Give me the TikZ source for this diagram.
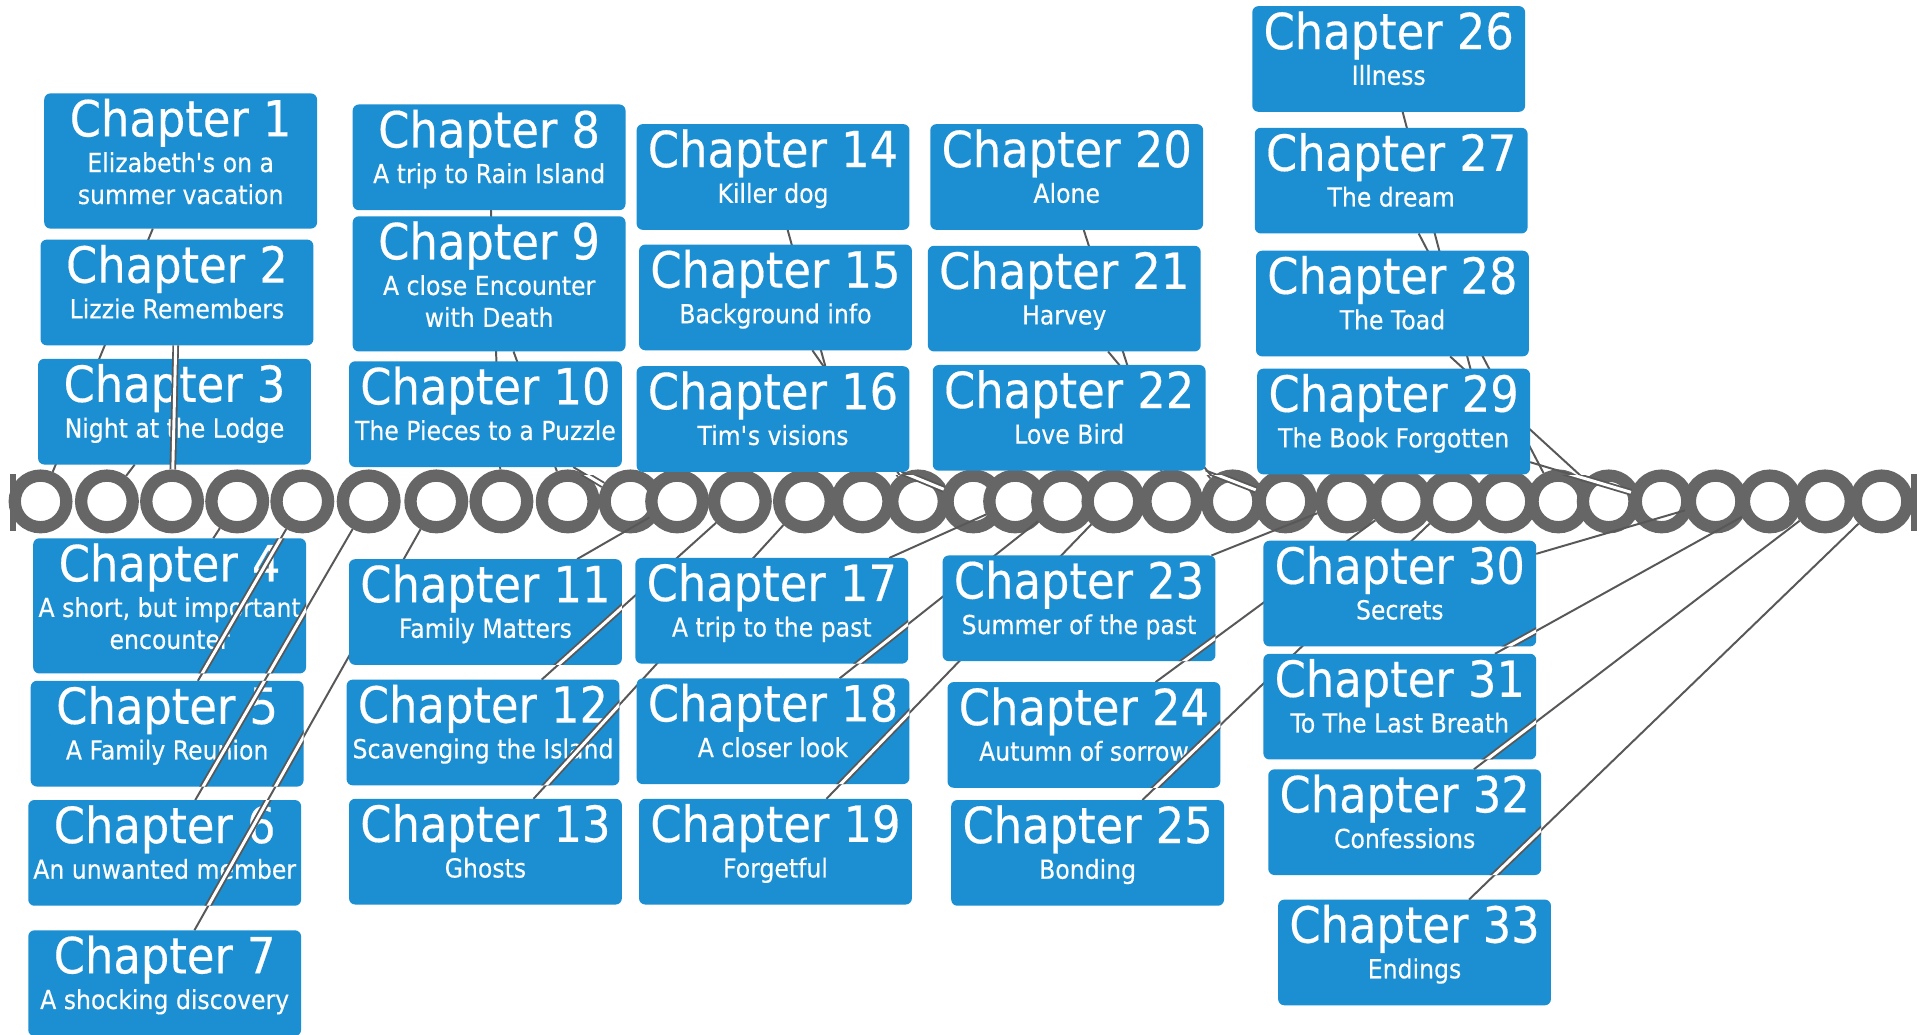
\documentclass[tikz,border=0pt]{standalone}
\usepackage{fontspec}
\setmainfont{DejaVu Sans}
\newfontfamily\chapfont[FakeStretch=0.9,FakeBold=0.35]{DejaVu Sans}
\usetikzlibrary{calc}
\definecolor{boxblue}{RGB}{27,143,210}
\definecolor{ringgrey}{RGB}{102,102,102}
\definecolor{linkgrey}{RGB}{88,88,88}
\pgfdeclarelayer{back}
\pgfdeclarelayer{rings}
\pgfdeclarelayer{links}
\pgfdeclarelayer{fg}
\pgfsetlayers{back,rings,links,main,fg}
\tikzset{
  chapbox/.style={rectangle, rounded corners=5pt, fill=boxblue, minimum width=222pt, inner sep=0pt, outer sep=0pt},
  ttl/.style={inner sep=0pt, text=white, font=\chapfont\fontsize{40.5}{44}\selectfont, anchor=base},
  subttl/.style={inner sep=0pt, text=white, font=\chapfont\fontsize{21.3}{25}\selectfont, anchor=base},
  ring/.style={circle, draw=ringgrey, line width=10pt, fill=white, minimum size=42pt, inner sep=0pt},
  link/.style={draw=linkgrey, line width=1.6pt},
  overlink/.style={draw=linkgrey, line width=1.5pt, double=white, double distance=2.4pt},
}
\newcommand\mkchap[4]{%
  \node[chapbox, minimum height=86pt] (ch#1) at (#2+111,#3+43) {};
  \node[ttl] (ch#1t) at ($(ch#1.north)+(0,35)$) {Chapter #1};
  \node[subttl] (ch#1s) at ($(ch#1.north)+(0,64)$) {#4};}
\newcommand\mkchaptwo[5]{%
  \node[chapbox, minimum height=110pt] (ch#1) at (#2+111,#3+55) {};
  \node[ttl] (ch#1t) at ($(ch#1.north)+(0,35)$) {Chapter #1};
  \node[subttl] (ch#1s) at ($(ch#1.north)+(0,64)$) {#4};
  \node[subttl] (ch#1u) at ($(ch#1.north)+(0,90)$) {#5};}
\newcommand\ovlink[3]{\begin{scope}\clip[rounded corners=5pt] (#1.south west) rectangle (#1.north east);\draw[overlink] (#2) -- (#3);\end{scope}}
\begin{document}
\begin{tikzpicture}[x=1pt,y=-1pt]
\begin{pgfonlayer}{back}
\fill[white] (0,0) rectangle (1568,842);
\end{pgfonlayer}
\useasboundingbox (0,0) rectangle (1568,842);
\begin{pgfonlayer}{rings}
\fill[ringgrey] (8,386) rectangle (13,432);
\fill[ringgrey] (1555,386) rectangle (1560,432);
\foreach \xx [count=\i] in {33,87,140,193,246,300,355,408,462,513,551,602,655,702,747,792,826,865,906,953,1003,1046,1096,1140,1182,1225,1268,1309,1352,1396,1440,1485,1531}
  {\node[ring] (c\i) at (\xx,408) {};}
\end{pgfonlayer}
% column 1
\mkchaptwo{1}{36}{76}{Elizabeth\textquotesingle s on a}{summer vacation}
\mkchap{2}{33}{195}{Lizzie Remembers}
\mkchap{3}{31}{292}{Night at the Lodge}
\mkchaptwo{4}{27}{438}{A short, but important}{encounter}
\mkchap{5}{25}{554}{A Family Reunion}
\mkchap{6}{23}{651}{An unwanted member}
\mkchap{7}{23}{757}{A shocking discovery}
% column 2
\mkchap{8}{287}{85}{A trip to Rain Island}
\mkchaptwo{9}{287}{176}{A close Encounter}{with Death}
\mkchap{10}{284}{294}{The Pieces to a Puzzle}
\mkchap{11}{284}{455}{Family Matters}
\mkchap{12}{282}{553}{Scavenging the Island}
\mkchap{13}{284}{650}{Ghosts}
% column 3
\mkchap{14}{518}{101}{Killer dog}
\mkchap{15}{520}{199}{Background info}
\mkchap{16}{518}{298}{Tim\textquotesingle s visions}
\mkchap{17}{517}{454}{A trip to the past}
\mkchap{18}{518}{552}{A closer look}
\mkchap{19}{520}{650}{Forgetful}
% column 4
\mkchap{20}{757}{101}{Alone}
\mkchap{21}{755}{200}{Harvey}
\mkchap{22}{759}{297}{Love Bird}
\mkchap{23}{767}{452}{Summer of the past}
\mkchap{24}{771}{555}{Autumn of sorrow}
\mkchap{25}{774}{651}{Bonding}
% column 5
\mkchap{26}{1019}{5}{Illness}
\mkchap{27}{1021}{104}{The dream}
\mkchap{28}{1022}{204}{The Toad}
\mkchap{29}{1023}{300}{The Book Forgotten}
\mkchap{30}{1028}{440}{Secrets}
\mkchap{31}{1028}{532}{To The Last Breath}
\mkchap{32}{1032}{626}{Confessions}
\mkchap{33}{1040}{732}{Endings}
\begin{pgfonlayer}{links}
\foreach \a/\b in {1/1,3/2,4/4,5/5,6/6,7/7,8/8,9/9,10/10,11/11,12/12,13/13,14/14,15/15,16/16,17/17,18/18,19/19,20/20,21/21,22/22,23/23,24/24,25/25,26/26,27/27,28/28,29/29,30/30,31/31,32/32,33/33}
  {\draw[link] (ch\a) -- (c\b);}
\end{pgfonlayer}
\begin{pgfonlayer}{fg}
% top connectors shown doubled where they cross the chain of rings
\begin{scope}
\clip (0,387) rectangle (1568,436);
\foreach \a in {8,9,10,14,15,16,20,21,22,26,27,28,29}
  {\draw[overlink] (ch\a) -- (c\a);}
\end{scope}
\draw[overlink] (ch2) -- (c3);
\ovlink{ch4}{ch5}{c5}
\ovlink{ch4}{ch6}{c6}
\ovlink{ch5}{ch6}{c6}
\ovlink{ch5}{ch7}{c7}
\ovlink{ch6}{ch7}{c7}
\ovlink{ch11}{ch12}{c12}
\ovlink{ch12}{ch13}{c13}
\ovlink{ch17}{ch18}{c18}
\ovlink{ch18}{ch19}{c19}
\ovlink{ch23}{ch24}{c24}
\ovlink{ch24}{ch25}{c25}
\ovlink{ch30}{ch31}{c31}
\ovlink{ch31}{ch32}{c32}
\ovlink{ch32}{ch33}{c33}
\end{pgfonlayer}
\end{tikzpicture}
\end{document}
